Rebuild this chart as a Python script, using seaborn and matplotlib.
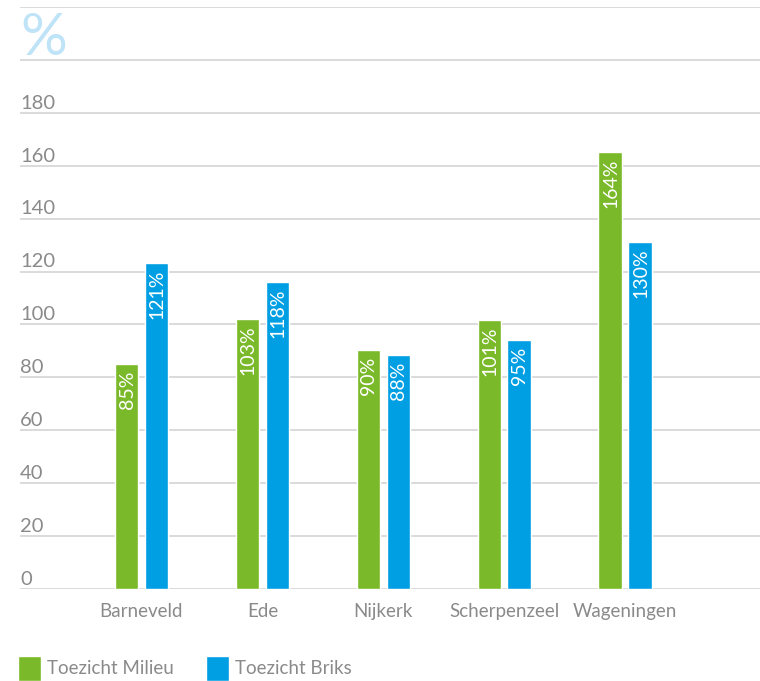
import matplotlib
matplotlib.use("Agg")
import matplotlib.pyplot as plt
import matplotlib.transforms as mtransforms
import pandas as pd
import seaborn as sns

cities = ["Barneveld", "Ede", "Nijkerk", "Scherpenzeel", "Wageningen"]
series = ["Toezicht Milieu", "Toezicht Briks"]
milieu = [85.1, 102.1, 90.4, 101.7, 165.2]
briks = [123.4, 116.1, 88.5, 94.1, 131.2]
milieu_labels = ["85%", "103%", "90%", "101%", "164%"]
briks_labels = ["121%", "118%", "88%", "95%", "130%"]
yticks = list(range(0, 181, 20))

green = "#7ab929"
blue = "#009fe3"
grey = "#8a8a8a"

df = pd.DataFrame({
    "city": cities * 2,
    "serie": [series[0]] * len(cities) + [series[1]] * len(cities),
    "value": milieu + briks,
})

sns.set_style("white")
plt.rcParams["font.family"] = ["Lato", "DejaVu Sans"]

fig = plt.figure(figsize=(7.6, 6.81), dpi=100)
ax = fig.add_axes([20 / 760, 92 / 681, 740 / 760, 582 / 681])

sns.barplot(df, x="city", y="value", hue="serie", palette=[green, blue],
            width=0.496, gap=0.22, saturation=1, ax=ax)

# labels inside the bars
for cont, labs in zip(ax.containers, [milieu_labels, briks_labels]):
    for bar, lab in zip(cont, labs):
        ax.annotate(lab, (bar.get_x() + bar.get_width() / 2, bar.get_height()),
                    xytext=(0.5, -5), textcoords="offset points", rotation=90,
                    ha="center", va="top", color="white", fontsize=14)

ax.set_ylim(0, 220)
ax.set_xlim(-1.005, 5.116)
ax.set_yticks(range(0, 221, 20))
ax.yaxis.grid(True, color="#dadada", lw=1.4)
ax.set_axisbelow(True)
ax.tick_params(axis="y", length=0, labelleft=False)
ax.tick_params(axis="x", length=0, labelsize=13.5, labelcolor=grey, pad=10)
ax.set_xlabel("")
ax.set_ylabel("")
sns.despine(ax=ax, left=True, bottom=True, top=True, right=True)

# y labels sit above their gridlines
trans = mtransforms.blended_transform_factory(ax.transAxes, ax.transData)
for v in yticks:
    ax.annotate(str(v), (0, v), xycoords=trans, xytext=(0, 3),
                textcoords="offset points", ha="left", va="baseline",
                fontsize=14.5, color=grey)
ax.annotate("%", (0, 200), xycoords=trans, xytext=(0, 3.5),
            textcoords="offset points", ha="left", va="baseline",
            fontsize=42, color="#bfe3f7")

sns.move_legend(ax, "upper left", bbox_to_anchor=(18 / 760, 25 / 681),
                bbox_transform=fig.transFigure, ncol=2, frameon=False,
                title=None, fontsize=13.5, handlelength=1.25, handleheight=1.65,
                handletextpad=0.3, columnspacing=1.7, borderpad=0,
                borderaxespad=0)
for t in ax.get_legend().get_texts():
    t.set_color(grey)

fig.savefig("out.png", dpi=100)
